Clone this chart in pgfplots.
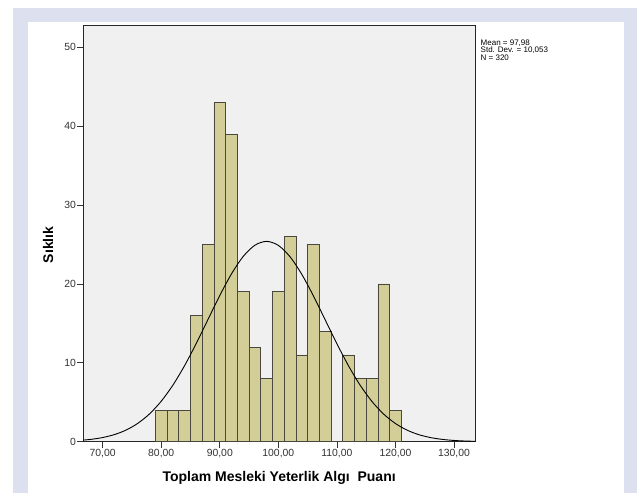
\documentclass[border=0pt]{standalone}
\usepackage{fontspec}
\setmainfont{Liberation Sans}
\usepackage{pgfplots}
\usepackage{pgfplotstable}
\pgfplotsset{compat=1.18}
\definecolor{outerband}{RGB}{220,224,239}
\definecolor{plotbg}{RGB}{240,240,240}
\definecolor{barfill}{RGB}{211,206,151}
\definecolor{baredge}{RGB}{72,72,62}

% histogram: left edge of each 2-point bin, frequency (last row closes the interval)
\pgfplotstableread{
left count
79  4
81  4
83  4
85  16
87  25
89  43
91  39
93  19
95  12
97  8
99  19
101 26
103 11
105 25
107 14
109 0
111 11
113 8
115 8
117 20
119 4
121 0
}\bins

% fitted normal curve, read at 2-point steps
\pgfplotstableread{
x   y
66  0.161
68  0.298
70  0.528
72  0.901
74  1.476
76  2.327
78  3.524
80  5.131
82  7.180
84  9.657
86  12.485
88  15.516
90  18.534
92  21.279
94  23.483
96  24.910
98  25.397
100 24.890
102 23.446
104 21.228
106 18.475
108 15.455
110 12.426
112 9.604
114 7.134
116 5.094
118 3.496
120 2.306
122 1.462
124 0.891
126 0.522
128 0.294
130 0.159
132 0.083
134 0.041
}\normcurve

\begin{document}
\begin{tikzpicture}[x=1pt,y=1pt]
\useasboundingbox (-83.3,-51.3) rectangle (553.7,441.7);
\fill[outerband] (-70.6,-51.3) rectangle (553.7,433.7);
\fill[white] (-55.6,-51.3) rectangle (540.7,419.7);
\begin{axis}[
  name=ax,
  at={(0,0)}, anchor=south west,
  scale only axis,
  width=391.7pt, height=416pt,
  xmin=66.69, xmax=133.59,
  ymin=0, ymax=52.74,
  axis background/.style={fill=plotbg},
  axis line style={black!85, line width=0.8pt},
  tick pos=left,
  tick align=outside,
  major tick length=6pt,
  tick style={black!80, line width=0.7pt},
  xtick={70,80,...,130},
  xticklabels={{70,00},{80,00},{90,00},{100,00},{110,00},{120,00},{130,00}},
  ytick={0,10,...,50},
  /pgf/number format/assume math mode=true,
  ticklabel style={font=\fontsize{10.4}{12}\selectfont, text=black!80},
  xticklabel style={inner sep=1.2pt},
  yticklabel style={inner sep=1.2pt},
  xlabel={Toplam Mesleki Yeterlik Algı\ \ Puanı},
  xlabel style={font=\fontsize{14}{16}\selectfont\bfseries,
    at={(axis description cs:0.5,0)}, anchor=center, yshift=-36.3pt},
  ylabel={Sıklık},
  ylabel style={font=\fontsize{14}{16}\selectfont\bfseries,
    at={(axis description cs:-0.0901,0.473)}, anchor=center},
]
\addplot[ybar interval, fill=barfill, draw=baredge, line width=0.7pt]
  table[x=left, y=count] {\bins};
\addplot[black, line width=0.9pt, smooth, no marks]
  table[x=x, y=y] {\normcurve};
\end{axis}
\node[anchor=north west, align=left, inner sep=0pt,
      font=\fontsize{8}{7.3}\selectfont]
  at ([xshift=5.5pt, yshift=-14pt]ax.north east)
  {Mean = 97,98\\Std. Dev. = 10,053\\N = 320};
\end{tikzpicture}
\end{document}
